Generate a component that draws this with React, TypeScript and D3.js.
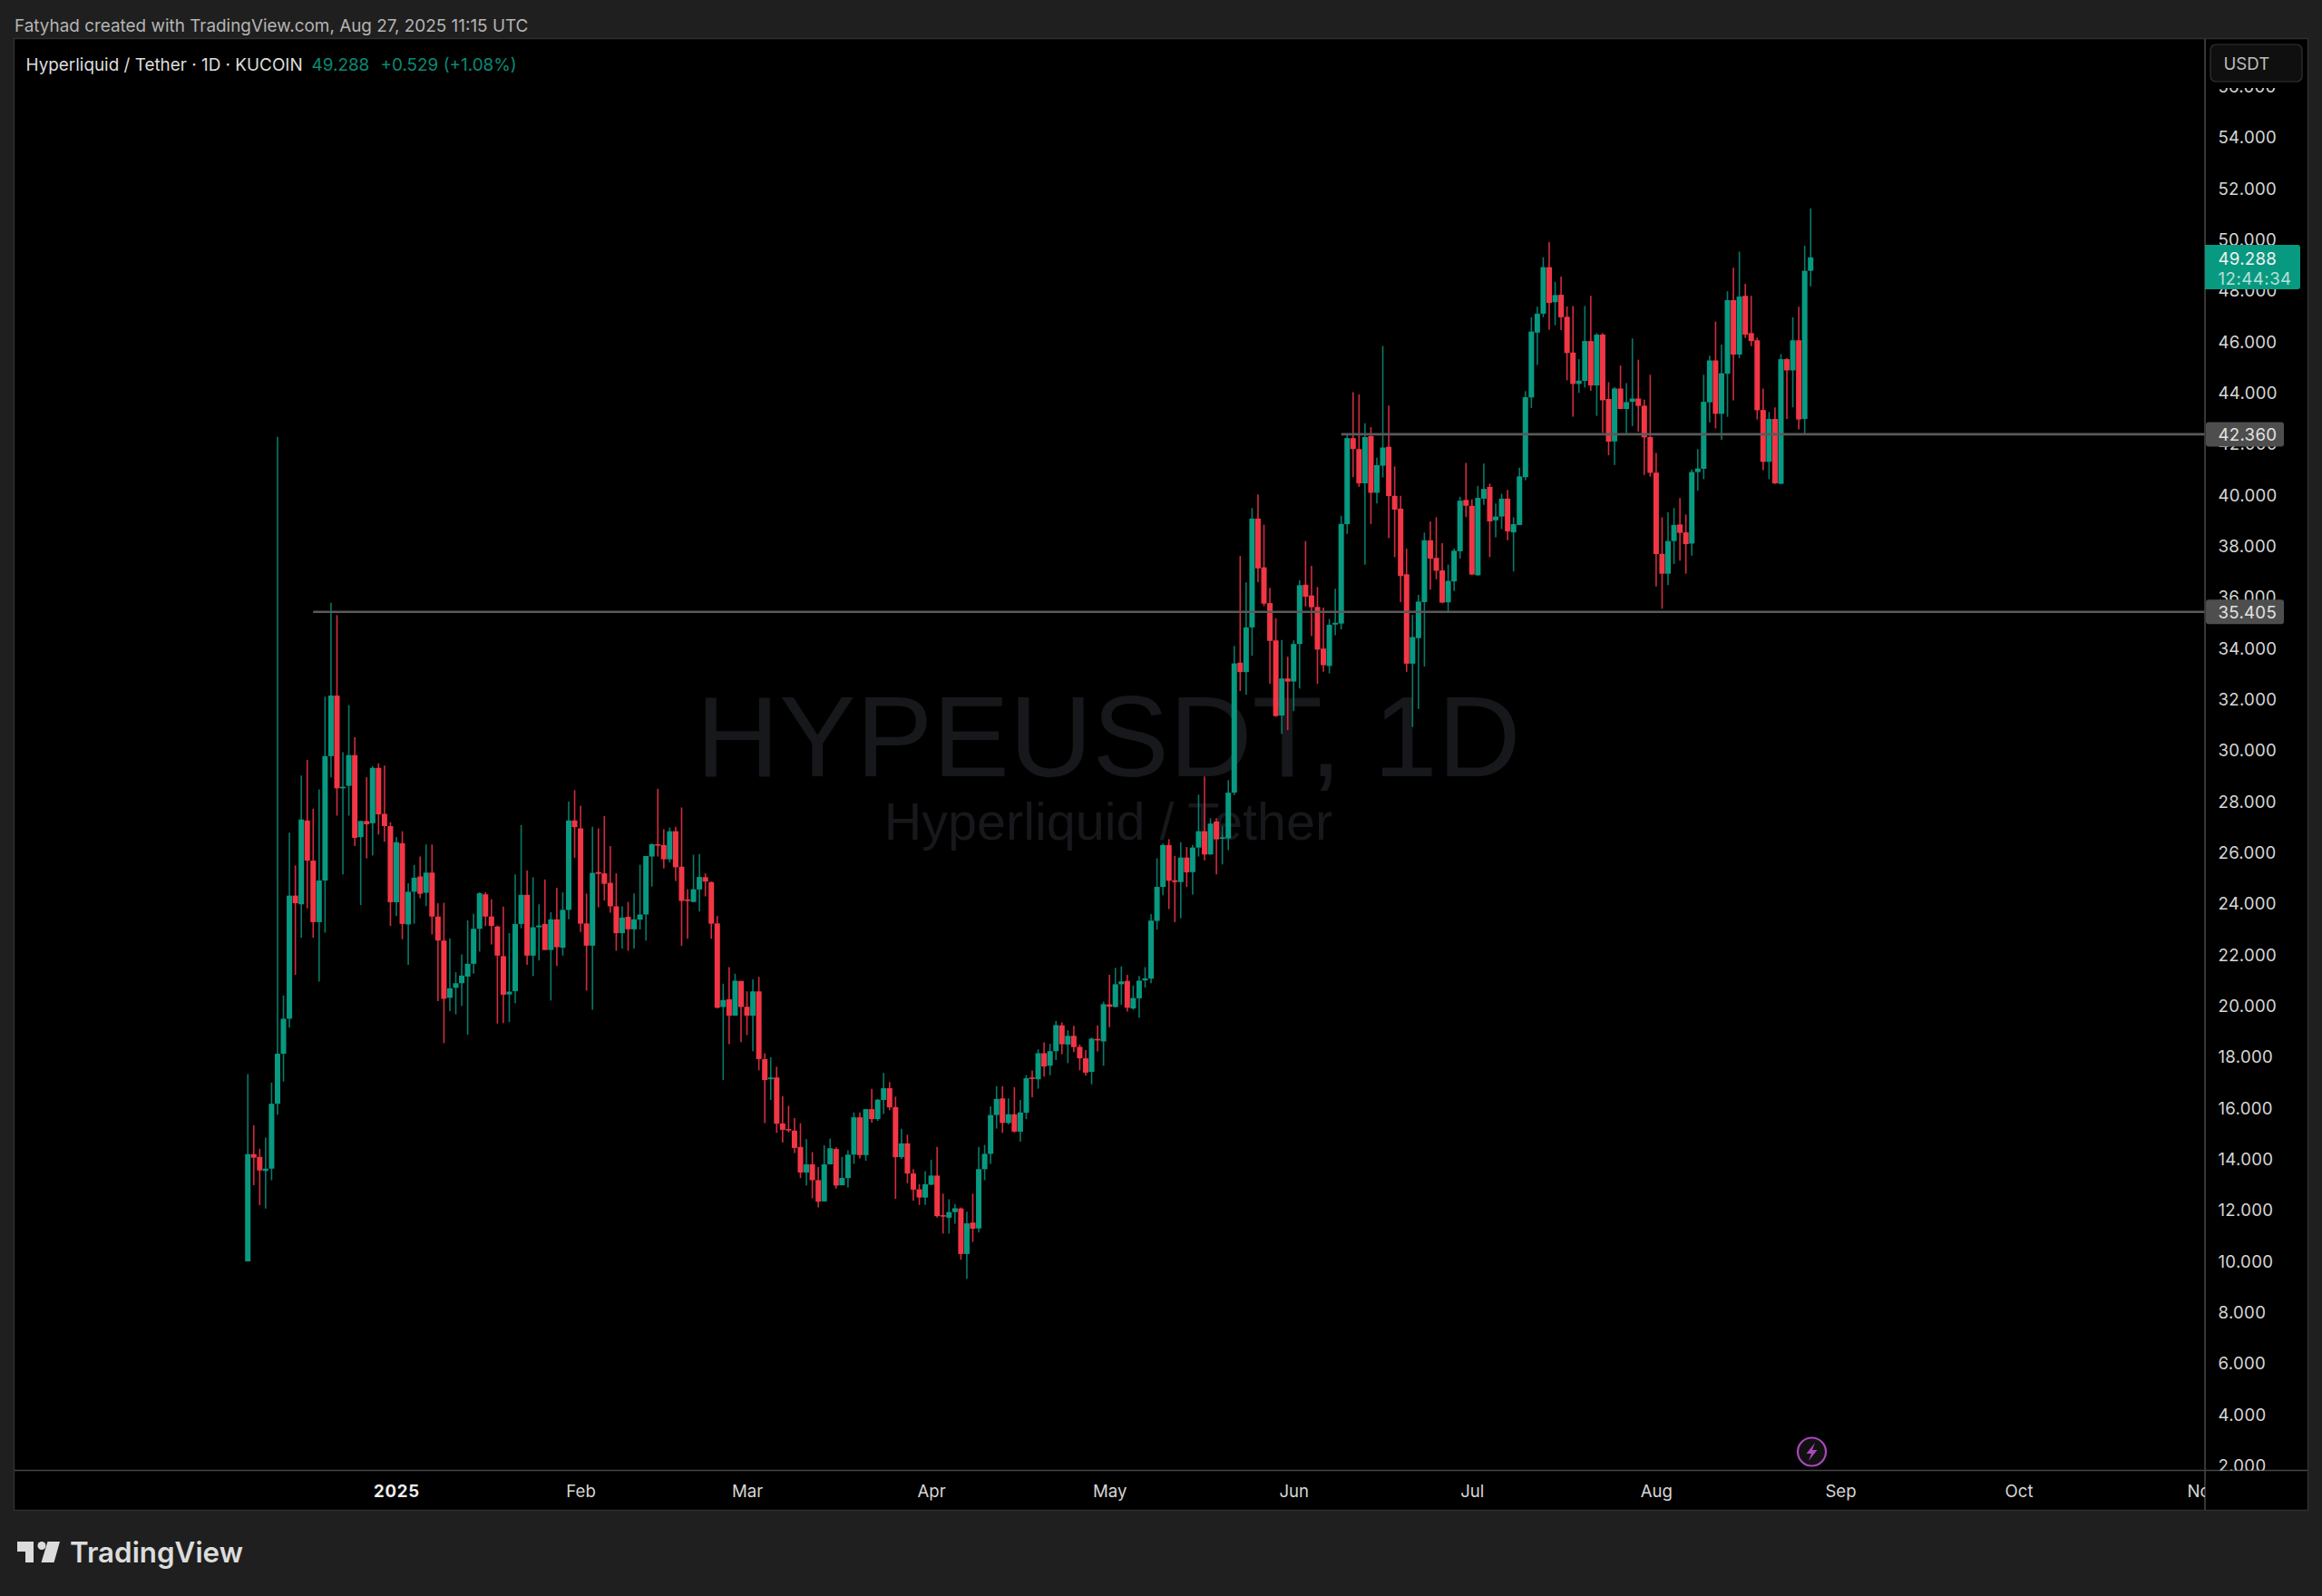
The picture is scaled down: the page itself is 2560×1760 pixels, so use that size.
import React from "react";
import * as d3 from "d3";

const opens = [
  9.98,14.18,14.07,13.52,13.61,16.15,18.11,19.48,24.30,23.96,
  27.24,25.67,23.26,24.89,29.76,32.13,28.5,28.6,29.8,26.59,
  27.22,27.13,29.3,27.5,27.02,24.04,26.35,23.17,24.45,25.05,
  24.41,25.2,23.48,22.54,20.3,20.69,20.87,21.13,21.63,23.0,
  24.35,23.48,23.09,21.93,20.43,20.56,23.19,24.33,21.95,23.06,
  23.19,22.17,23.37,22.26,23.74,27.24,26.93,23.21,22.34,25.22,
  25.17,24.8,23.88,22.83,23.47,22.98,23.36,23.56,25.83,26.31,
  26.28,25.72,26.82,25.43,24.15,24.05,24.54,25.02,24.83,23.21,
  19.94,20.24,19.6,20.96,19.95,19.6,20.55,17.9,17.11,17.18,
  15.38,15.16,15.1,14.46,13.46,13.78,13.16,12.33,13.78,14.38,
  12.96,13.24,14.16,15.62,14.14,15.94,15.55,16.3,16.76,16.02,
  14.06,14.6,13.42,12.8,12.48,12.98,13.34,11.79,11.69,11.91,
  12.05,10.27,11.5,11.27,13.59,14.19,15.71,16.36,15.4,15.74,
  15.06,15.8,17.18,17.11,18.13,17.64,18.21,19.22,18.47,18.81,
  18.38,17.93,17.4,18.69,18.59,20.04,19.94,20.83,20.96,19.88,
  20.28,20.98,21.05,23.31,24.64,26.28,24.9,24.83,25.79,25.22,
  26.18,26.82,25.91,27.2,26.54,26.54,28.33,33.42,33.05,34.8,
  39.06,37.15,35.75,34.29,31.35,32.8,32.68,34.15,36.47,36.05,
  35.6,33.97,33.29,34.91,34.95,38.84,42.21,41.78,40.44,42.29,
  40.07,41.13,41.87,39.95,39.45,36.88,33.38,34.38,35.79,38.21,
  37.52,37.03,35.78,36.6,37.78,39.79,39.56,36.84,39.84,40.3,
  38.99,39.14,39.84,38.52,38.81,40.68,43.8,46.34,47.08,48.9,
  47.53,47.82,46.96,45.56,44.33,44.45,46.01,44.27,46.26,43.74,
  42.08,44.15,43.35,43.63,43.76,43.48,42.25,40.86,37.68,36.9,
  38.18,38.83,38.52,38.08,40.88,41.01,43.61,45.25,43.16,44.73,
  47.61,45.48,47.78,46.32,46.04,43.31,41.28,42.96,40.42,45.3,
  44.86,46.04,42.96,48.76,
];
const closes = [
  14.18,14.04,13.54,13.61,16.15,18.11,19.48,24.30,24.0,27.28,
  25.67,23.26,24.89,29.76,32.13,28.5,28.56,29.8,26.56,27.22,
  27.09,29.3,27.48,27.02,24.04,26.39,23.19,24.45,25.0,24.37,
  25.2,23.48,22.54,20.26,20.67,20.87,21.17,21.63,23.0,24.39,
  23.48,23.11,21.95,20.42,20.54,23.19,24.33,21.95,23.06,23.13,
  22.17,23.37,22.28,23.74,27.24,26.98,23.2,22.34,25.19,25.15,
  24.76,23.88,22.83,23.44,22.98,23.37,23.56,25.85,26.31,26.27,
  25.72,26.82,25.41,24.09,24.09,24.55,25.03,24.85,23.2,19.91,
  20.21,19.6,20.97,19.94,19.6,20.55,17.9,17.08,17.18,15.37,
  15.13,15.12,14.42,13.46,13.78,13.16,12.32,13.78,14.41,12.95,
  13.25,14.16,15.62,14.14,15.94,15.55,16.31,16.76,16.01,14.06,
  14.6,13.42,12.79,12.48,13.0,13.34,11.75,11.76,11.91,12.06,
  10.27,11.47,11.26,13.59,14.19,15.71,16.34,15.4,15.74,15.06,
  15.81,17.15,17.14,18.13,17.61,18.21,19.23,18.48,18.81,18.37,
  17.93,17.37,18.7,18.63,20.05,19.95,20.83,20.94,19.91,20.29,
  20.97,21.06,23.32,24.64,26.28,24.88,24.83,25.79,25.21,26.18,
  26.82,25.91,27.12,26.5,26.58,28.33,33.39,33.05,34.8,39.06,
  37.11,35.73,34.27,31.33,32.8,32.68,34.15,36.45,36.0,35.59,
  33.93,33.32,34.9,34.98,38.85,42.21,41.78,40.44,42.25,40.07,
  41.15,41.84,39.94,39.41,36.81,33.38,34.42,35.81,38.21,37.49,
  37.02,35.77,36.62,37.8,39.76,39.56,36.87,39.87,40.22,38.95,
  39.14,39.84,38.56,38.84,40.71,43.81,46.38,47.08,48.9,47.5,
  47.81,46.94,45.54,44.33,44.46,46.01,44.27,46.26,43.69,42.07,
  44.15,43.35,43.62,43.76,43.47,42.24,40.85,37.67,36.9,38.18,
  38.81,38.5,38.06,40.88,41.02,43.63,45.25,43.16,44.75,47.61,
  45.48,47.75,46.26,46.01,43.3,41.28,42.96,40.44,45.3,44.86,
  46.04,42.94,48.76,49.288,
];
const highs = [
  17.31,15.31,14.39,14.83,16.98,42.26,20.39,26.76,25.48,29.0,
  29.61,27.7,28.46,32.09,35.76,35.28,29.91,31.76,30.5,27.22,
  28.93,29.37,29.48,29.39,27.17,26.59,26.82,24.78,25.5,25.83,
  26.3,26.3,24.0,24.02,22.63,21.3,22.0,23.33,23.59,24.43,
  24.43,24.15,23.13,23.87,22.83,25.13,27.06,25.28,25.02,23.96,
  24.93,23.65,24.61,24.43,27.98,28.43,27.82,24.38,26.99,26.93,
  27.41,26.24,25.17,23.88,24.05,24.38,25.51,25.85,26.34,28.48,
  26.9,26.96,26.99,27.75,24.55,25.9,25.93,25.17,24.85,23.5,
  20.85,21.5,21.24,20.96,20.55,21.02,21.12,18.13,17.97,17.6,
  16.45,16.07,15.59,15.39,14.76,14.26,13.67,14.53,14.79,14.44,
  14.07,14.33,15.81,15.81,15.94,16.73,16.34,17.36,17.0,16.43,
  15.17,14.94,13.59,13.0,13.51,13.96,14.46,12.63,12.41,12.22,
  12.09,11.92,12.63,14.46,14.54,16.05,16.84,16.84,16.36,16.8,
  16.3,17.27,17.45,18.28,18.55,18.5,19.39,19.34,19.03,19.2,
  18.47,18.25,18.74,19.22,20.15,21.2,21.47,21.53,21.2,20.78,
  21.15,21.5,23.58,25.76,26.34,26.51,25.85,26.39,26.2,26.28,
  28.25,28.96,27.33,27.33,27.01,28.82,34.07,37.6,36.56,39.47,
  40.0,38.82,36.35,35.16,34.31,33.65,34.29,36.64,38.18,37.21,
  36.38,35.58,35.13,36.31,39.17,42.34,44.01,43.92,42.79,42.64,
  41.44,45.82,43.48,41.1,39.95,37.88,35.29,36.07,38.51,38.95,
  39.11,38.1,37.26,37.88,39.91,41.24,39.81,40.34,41.21,40.43,
  39.65,40.03,40.18,39.11,41.05,44.05,46.94,47.35,49.29,49.88,
  48.33,48.53,47.36,47.38,45.3,47.38,47.78,46.32,46.32,44.4,
  44.21,45.05,44.36,46.11,45.28,43.71,44.69,41.63,39.11,39.3,
  39.47,39.86,39.22,40.98,41.78,44.69,45.44,46.77,45.87,47.96,
  48.88,49.51,48.25,47.78,46.14,44.15,43.23,43.41,45.5,45.34,
  46.94,47.35,49.74,51.2,
];
const lows = [
  9.98,12.96,12.18,12.05,13.16,15.72,17.02,19.13,21.2,22.65,
  23.8,22.65,20.93,22.85,28.93,27.43,25.13,27.43,26.24,23.93,
  25.76,25.87,26.69,26.41,23.11,23.5,22.59,21.59,23.2,24.2,
  23.89,22.78,20.17,18.52,19.78,19.65,19.98,18.85,21.24,22.11,
  23.11,22.39,19.29,19.31,19.35,20.09,23.02,21.59,21.15,21.76,
  22.17,20.19,21.54,21.95,23.37,25.78,22.88,20.58,19.83,23.84,
  24.11,23.63,22.14,22.23,22.14,22.23,22.97,22.54,24.65,25.83,
  25.36,25.6,24.87,22.33,22.61,24.04,23.67,24.27,22.61,19.88,
  17.08,18.48,19.6,18.56,18.84,18.21,17.46,15.39,16.3,15.01,
  14.63,15.03,14.22,13.24,12.95,12.45,12.09,12.32,13.78,12.83,
  12.96,12.87,13.8,14.01,13.92,15.41,15.48,15.75,15.9,12.43,
  13.99,13.04,12.36,12.19,12.19,12.97,11.69,11.07,11.07,11.45,
  10.05,9.3,10.74,11.12,13.16,13.8,15.18,15.01,15.34,15.03,
  14.67,15.55,16.41,16.74,17.21,17.27,17.86,18.09,17.74,18.17,
  17.46,17.25,16.91,18.2,17.64,19.15,19.92,20.03,19.76,19.83,
  19.52,20.7,20.87,22.97,24.31,23.77,23.26,23.41,24.64,24.34,
  25.83,25.68,25.9,25.13,25.52,26.08,28.23,32.31,32.17,33.69,
  36.57,35.63,32.59,31.3,30.63,30.78,31.52,32.41,35.62,34.46,
  32.59,33.06,33.0,34.49,34.72,38.46,40.68,40.3,37.25,38.84,
  39.65,40.67,38.29,37.55,35.79,33.06,30.9,31.61,33.27,36.28,
  36.68,35.74,35.36,36.22,37.49,39.12,36.85,36.83,39.6,37.55,
  38.33,38.65,38.21,36.99,38.8,40.56,43.39,45.07,46.94,46.46,
  46.63,46.44,44.47,43.05,43.98,44.19,44.06,43.08,42.42,41.54,
  41.16,43.35,42.4,42.68,42.46,40.77,40.7,36.4,35.53,36.45,
  37.28,37.41,36.9,37.61,40.15,40.6,42.83,42.59,42.14,43.04,
  43.69,45.34,46.13,45.81,42.94,40.95,40.6,40.41,40.42,42.96,
  43.41,42.55,42.38,48.15,
];

const firstCandleDate = new Date(Date.UTC(2024, 11, 7));
const priceTicks = d3.range(2, 58, 2);
const monthTicks = [
  { label: "2025", date: new Date(Date.UTC(2025, 0, 1)), bold: true },
  { label: "Feb", date: new Date(Date.UTC(2025, 1, 1)), bold: false },
  { label: "Mar", date: new Date(Date.UTC(2025, 2, 1)), bold: false },
  { label: "Apr", date: new Date(Date.UTC(2025, 3, 1)), bold: false },
  { label: "May", date: new Date(Date.UTC(2025, 4, 1)), bold: false },
  { label: "Jun", date: new Date(Date.UTC(2025, 5, 1)), bold: false },
  { label: "Jul", date: new Date(Date.UTC(2025, 6, 1)), bold: false },
  { label: "Aug", date: new Date(Date.UTC(2025, 7, 1)), bold: false },
  { label: "Sep", date: new Date(Date.UTC(2025, 8, 1)), bold: false },
  { label: "Oct", date: new Date(Date.UTC(2025, 9, 1)), bold: false },
  { label: "Nov", date: new Date(Date.UTC(2025, 10, 1)), bold: false },
];
const levelPrices = [42.36, 35.405];
const levelStartDates = [new Date(Date.UTC(2025, 5, 9)), new Date(Date.UTC(2024, 11, 18))];
const lastPrice = 49.288;

const GREEN = "#089981";
const RED = "#F23645";
const WICK_GREEN = "#08796a";
const WICK_RED = "#d02c3e";
const FRAME = "#1f1f1f";
const LINE = "#444444";
const AXIS_TEXT = "#d6d6d6";
const FONT = "Inter, 'Noto Sans', sans-serif";

const plotLeft = 16;
const plotRight = 2431;
const frameRight = 2544;
const plotTop = 43;
const axisY = 1621.5;
const frameBottom = 1665;

const x = d3
  .scaleUtc()
  .domain([new Date(Date.UTC(2025, 0, 1)), new Date(Date.UTC(2025, 8, 1))])
  .range([437, 2029]);
const y = d3.scaleLinear().domain([54, 2]).range([151, 1615.8]);
const fmt = d3.format(".3f");
const bodyWidth = 6;

const candles = opens.map((o, i) => ({
  o,
  c: closes[i],
  h: highs[i],
  l: lows[i],
  date: d3.utcDay.offset(firstCandleDate, i),
}));

export default function App() {
  return (
    <svg
      width={2560}
      height={1760}
      viewBox="0 0 2560 1760"
      style={{ position: "absolute", left: 0, top: 0, display: "block" }}
      fontFamily={FONT}
    >
      <defs>
        <clipPath id="plotClip">
          <rect x={plotLeft} y={plotTop} width={plotRight - plotLeft} height={axisY - plotTop} />
        </clipPath>
        <clipPath id="priceClip">
          <rect x={plotRight} y={plotTop} width={frameRight - plotRight} height={axisY - plotTop} />
        </clipPath>
        <clipPath id="timeClip">
          <rect x={plotLeft} y={axisY} width={plotRight - plotLeft} height={frameBottom - axisY} />
        </clipPath>
      </defs>
      <rect width={2560} height={1760} fill={FRAME} />
      <rect
        x={plotLeft - 0.5}
        y={plotTop - 0.5}
        width={frameRight - plotLeft + 1}
        height={frameBottom - plotTop + 1}
        fill="#000"
        stroke="#2e2e2e"
        strokeWidth={1.5}
      />
      <text x={16} y={34.5} fontSize={18.9} fill="#b4b4b4">
        Fatyhad created with TradingView.com, Aug 27, 2025 11:15 UTC
      </text>

      <g fontFamily="'Liberation Sans', Arial, sans-serif" fill="#17181b" textAnchor="middle">
        <text x={1222} y={856} fontSize={126.8}>HYPEUSDT, 1D</text>
        <text x={1222} y={926} fontSize={57.5}>Hyperliquid / Tether</text>
      </g>

      <g clipPath="url(#plotClip)">
        {candles.map((d, i) => {
          const up = d.c >= d.o;
          const cx = x(d.date);
          const top = y(Math.max(d.o, d.c));
          const bottom = y(Math.min(d.o, d.c));
          return (
            <g key={i}>
              <line
                x1={cx}
                x2={cx}
                y1={y(d.h)}
                y2={y(d.l)}
                stroke={up ? WICK_GREEN : WICK_RED}
                strokeWidth={1.6}
              />
              <rect
                x={cx - bodyWidth / 2}
                y={top}
                width={bodyWidth}
                height={Math.max(bottom - top, 1.6)}
                fill={up ? GREEN : RED}
              />
            </g>
          );
        })}
        {levelPrices.map((p, i) => (
          <line
            key={p}
            x1={x(levelStartDates[i])}
            x2={plotRight}
            y1={y(p)}
            y2={y(p)}
            stroke="#5a5a5a"
            strokeWidth={2.6}
          />
        ))}
      </g>

      {/* flash icon */}
      <circle cx={1997.5} cy={1601} r={15.5} fill="#111" stroke="#ab47bc" strokeWidth={2.2} />
      <path
        d="M2001 1591 L1991.5 1603 L1997 1603 L1994 1611 L2003.5 1599 L1998 1599 Z"
        fill="#ab47bc"
      />

      {/* axis lines */}
      <line x1={plotLeft} x2={frameRight} y1={axisY} y2={axisY} stroke={LINE} strokeWidth={1.6} />
      <line x1={plotRight} x2={plotRight} y1={plotTop} y2={frameBottom} stroke={LINE} strokeWidth={1.6} />

      {/* price scale */}
      <g clipPath="url(#priceClip)" fontSize={18.6} fill={AXIS_TEXT} letterSpacing={0.3}>
        {priceTicks.map((p) => (
          <text key={p} x={2445.5} y={y(p) + 0.6} dy="0.36em">
            {fmt(p)}
          </text>
        ))}
      </g>

      {/* time scale */}
      <g clipPath="url(#timeClip)" fontSize={18.6} textAnchor="middle" fill={AXIS_TEXT}>
        {monthTicks.map((t) => (
          <text
            key={t.label}
            x={x(t.date) + 0.5}
            y={1644}
            dy="0.36em"
            fontWeight={t.bold ? 700 : 400}
            fill={t.bold ? "#eeeeee" : AXIS_TEXT}
            letterSpacing={t.bold ? 0.8 : 0}
          >
            {t.label}
          </text>
        ))}
      </g>

      {/* level tags */}
      {levelPrices.map((p) => (
        <g key={p}>
          <rect x={plotRight + 1} y={y(p) - 13.5} width={86} height={27} rx={3} fill="#4e4e4e" />
          <text x={2445.5} y={y(p) + 0.6} dy="0.36em" fontSize={18.6} fill="#e2e2e2" letterSpacing={0.3}>
            {fmt(p)}
          </text>
        </g>
      ))}

      {/* last price tag */}
      <path
        d={`M${plotRight} ${y(lastPrice) - 13.7} H2533 a3 3 0 0 1 3 3 V${y(lastPrice) + 32.3} a3 3 0 0 1 -3 3 H${plotRight} Z`}
        fill={GREEN}
      />
      <text x={2445.5} y={y(lastPrice) + 1.2} dy="0.36em" fontSize={18.6} fill="#f2f2f2" letterSpacing={0.3}>
        {fmt(lastPrice)}
      </text>
      <text x={2445.5} y={y(lastPrice) + 23.3} dy="0.36em" fontSize={18.6} fill="#b5e0d8" letterSpacing={0.5}>
        12:44:34
      </text>

      {/* currency button */}
      <rect x={plotRight + 1} y={44} width={frameRight - plotRight - 2} height={53} fill="#000" />
      <rect x={2437} y={49} width={101} height={41} rx={6} fill="#0f0f0f" stroke="#333333" strokeWidth={1.2} />
      <text x={2451.5} y={70} dy="0.36em" fontSize={18.6} fill="#bdbdbd">USDT</text>

      {/* legend */}
      <text x={28.5} y={71} dy="0.36em" fontSize={18.9} fill="#dddddd">
        Hyperliquid / Tether · 1D · KUCOIN
      </text>
      <text x={343.5} y={71} dy="0.36em" fontSize={18.9} fill="#0a8a75">
        49.288
      </text>
      <text x={419.5} y={71} dy="0.36em" fontSize={18.9} fill="#0a8a75">
        +0.529 (+1.08%)
      </text>

      {/* logo */}
      <g fill="#dcdcdc">
        <path d="M19 1700 H37 V1723 H28 V1711 H19 Z" />
        <circle cx={46} cy={1704.5} r={4.5} />
        <path d="M52.5 1700 H66 L59.5 1723 H45.5 Z" />
        <text x={77} y={1723} fontSize={31.5} fontWeight={600} fontFamily="Inter, sans-serif" textLength={191} lengthAdjust="spacingAndGlyphs">
          TradingView
        </text>
      </g>
    </svg>
  );
}
